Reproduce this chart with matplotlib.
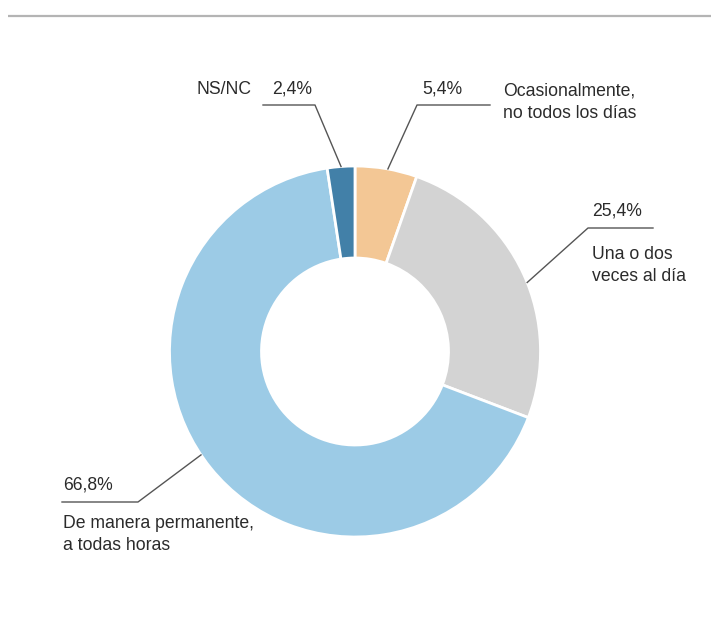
import matplotlib.pyplot as plt
import numpy as np

plt.rcParams['font.family'] = ['Liberation Sans', 'DejaVu Sans']

# share of answers, clockwise from 12 o'clock
values = [5.4, 25.4, 66.8, 2.4]
labels = [['Ocasionalmente,', 'no todos los días'],
          ['Una o dos', 'veces al día'],
          ['De manera permanente,', 'a todas horas'],
          ['NS/NC']]
colors = ['#f3c795', '#d3d3d3', '#9ccbe6', '#4280a8']

W, H = 711, 639
cx, cy = 355, H - 351.5
R = 185.5

fig = plt.figure(figsize=(W / 100, H / 100), dpi=100)
ax = fig.add_axes([0, 0, 1, 1])

wedges, _ = ax.pie(values, colors=colors, startangle=90, counterclock=False,
                   center=(cx, cy), radius=R,
                   wedgeprops=dict(width=R - 93.5, edgecolor='white', linewidth=2))

ax.set_xlim(0, W)
ax.set_ylim(0, H)
ax.set_aspect('equal')
ax.axis('off')

# rule along the top
ax.plot([8, W], [H - 15.5, H - 15.5], color='#b4b4b4', lw=1.6, solid_capstyle='butt')

txt = dict(fontsize=12.7, color='#2b2b2b', va='baseline')
line = dict(color='#555555', lw=1.0)


def fmt(v):
    return f'{v:.1f}'.replace('.', ',') + '%'


def anchor(w, shift, r=R):
    # leader starts on the outer rim, a little clockwise of the wedge middle
    a = np.deg2rad((w.theta1 + w.theta2) / 2 - shift)
    return cx + r * np.cos(a), cy + r * np.sin(a)


# elbow point and horizontal tail of each leader (pixel coords from top)
elbows = [(417, 105, 490), (588, 228, 653), (138, 502, 62), (315, 105, 263)]
shifts = [0.5, 3, 5, 0]

for w, sh, (ex, ey, tx) in zip(wedges, shifts, elbows):
    ax0, ay0 = anchor(w, sh)
    ax.plot([ax0, ex, tx], [ay0, H - ey, H - ey], **line)

# NS/NC
ax.text(197, H - 94, labels[3][0], **txt)
ax.text(272, H - 94, fmt(values[3]), **txt)
# Ocasionalmente
ax.text(422, H - 94, fmt(values[0]), **txt)
ax.text(503, H - 96, labels[0][0], **txt)
ax.text(503, H - 118, labels[0][1], **txt)
# Una o dos veces
ax.text(592, H - 215, fmt(values[1]), **txt)
ax.text(592, H - 259, labels[1][0], **txt)
ax.text(592, H - 281, labels[1][1], **txt)
# De manera permanente
ax.text(63, H - 490, fmt(values[2]), **txt)
ax.text(63, H - 528, labels[2][0], **txt)
ax.text(63, H - 550, labels[2][1], **txt)

fig.savefig('out.png', dpi=100, facecolor='white')
